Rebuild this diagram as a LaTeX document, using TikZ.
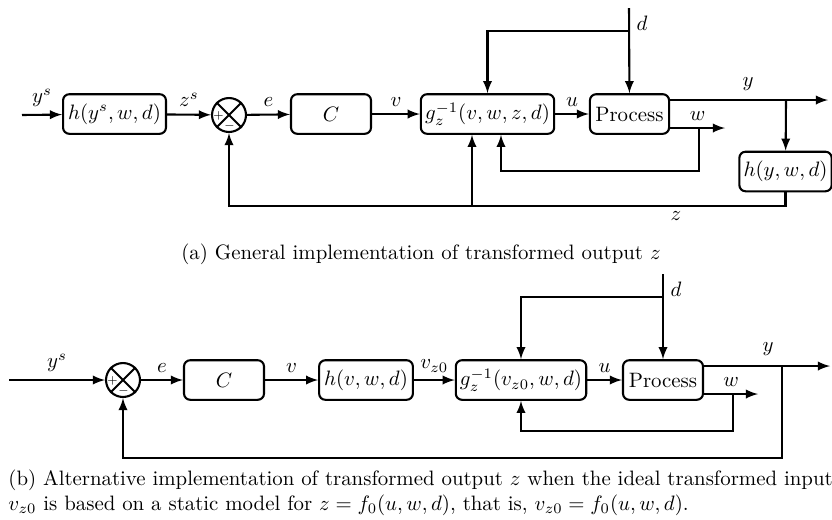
\documentclass[tikz,border=0pt]{standalone}
\usetikzlibrary{calc}
\tikzset{
	blok/.style={draw, line width=1pt, rounded corners=3pt, minimum height=19pt, inner sep=2pt},
	vsota/.style={draw, line width=1pt, circle, minimum size=16.3pt, inner sep=0pt},
	pov/.style={->, >=latex, line width=1pt},
}
\newcommand{\SumX}[1]{% krizec v vsotnem clenu ter predznaka + in -
	\draw[line width=1pt] (#1.north west)--(#1.south east) (#1.north east)--(#1.south west);
	\node[font=\tiny, inner sep=0pt] (#1p) at ($(#1.center)+(-5pt,-0.6pt)$) {$+$};
	\node[font=\tiny, inner sep=0pt] (#1m) at ($(#1.center)+(0.3pt,-5.4pt)$) {$-$};
}

\begin{document}
\begin{tikzpicture}[x=0.48pt, y=-0.48pt]
	\useasboundingbox (0,0) rectangle (832,519);

	% (a) splosna izvedba
	\coordinate (in1) at (22,115);
	\node[blok, minimum width=49.4pt] (hs) at (114.5,114) {$h(y^s,w,d)$};
	\node[vsota] (s1) at (229,115) {};
	\SumX{s1}
	\node[blok, minimum width=38.4pt] (C1) at (331,114) {$C$};
	\node[blok, minimum width=64pt] (g1) at (487.5,114) {$g_z^{-1}(v,w,z,d)$};
	\node[blok, minimum width=38pt] (P1) at (629.5,114) {Process};
	\node[blok, minimum width=43.7pt] (h2) at (785.5,171.5) {$h(y,w,d)$};

	\draw[pov] (in1) -- node[above]{$y^s$} (hs);
	\draw[pov] (hs) -- node[above]{$z^s$} (s1);
	\draw[pov] (s1) -- node[above]{$e$} (C1);
	\draw[pov] (C1) -- node[above]{$v$} (g1);
	\draw[pov] (g1) -- node[above]{$u$} (P1);

	\coordinate (d1) at (629,8);
	\coordinate (d1b) at (629,31);
	\node[anchor=north west, inner sep=3.5pt] (dl1) at (d1) {$d$};
	\draw[pov] (d1) -- (P1);
	\draw[pov] (d1b) -| (g1);

	\coordinate (y1) at (828,100);
	\coordinate (yb1) at (786,100);
	\draw[pov] (P1.east |- y1) -- (y1);
	\node (yl1) at (748,84) {$y$};
	\draw[pov] (yb1) -- (h2);

	\coordinate (w1) at (725,128);
	\coordinate (wb1) at (699,128);
	\coordinate (wf1) at (501,171);
	\draw[pov] (P1.east |- w1) -- node[above]{$w$} (w1);
	\draw[pov] (wb1) |- (wf1) -- (wf1 |- g1.south);

	\coordinate (zc1) at (229,206);
	\coordinate (zb1) at (472,206);
	\draw[pov] (h2.south) |- (zc1) -- (s1);
	\draw[pov] (zb1) -- (zb1 |- g1.south);
	\node (zl1) at (676,216) {$z$};

	\node (capa) at (421,254) {(a) General implementation of transformed output $z$};

	% (b) izvedba s staticnim modelom
	\coordinate (in2) at (9,380);
	\node[vsota] (s2) at (123,380) {};
	\SumX{s2}
	\node[blok, minimum width=38.4pt] (C2) at (224,380) {$C$};
	\node[blok, minimum width=45pt] (hv) at (366,380) {$h(v,w,d)$};
	\node[blok, minimum width=62.4pt] (g2) at (521,380) {$g_z^{-1}(v_{z0},w,d)$};
	\node[blok, minimum width=38.4pt] (P2) at (663,380) {Process};

	\draw[pov] (in2) -- node[above]{$y^s$} (s2);
	\draw[pov] (s2) -- node[above]{$e$} (C2);
	\draw[pov] (C2) -- node[above]{$v$} (hv);
	\draw[pov] (hv) -- node[above]{$v_{z0}$} (g2);
	\draw[pov] (g2) -- node[above]{$u$} (P2);

	\coordinate (d2) at (663,274);
	\coordinate (d2b) at (663,297);
	\node[anchor=north west, inner sep=3.5pt] (dl2) at (d2) {$d$};
	\draw[pov] (d2) -- (P2);
	\draw[pov] (d2b) -| (g2);

	\coordinate (y2) at (830,366);
	\coordinate (yb2) at (782,366);
	\coordinate (yc2) at (123,458);
	\draw[pov] (P2.east |- y2) -- (y2);
	\node (yl2) at (768,349) {$y$};
	\draw[pov] (yb2) |- (yc2) -- (s2);

	\coordinate (w2) at (758,394);
	\coordinate (wb2) at (733,394);
	\coordinate (wf2) at (521,431);
	\draw[pov] (P2.east |- w2) -- node[above]{$w$} (w2);
	\draw[pov] (wb2) |- (wf2) -- (g2);

	\node[anchor=west, align=left, inner sep=0pt] (capb) at (8,493)
		{(b) Alternative implementation of transformed output $z$ when the ideal transformed input\\
		$v_{z0}$ is based on a static model for $z=f_0(u,w,d)$, that is, $v_{z0}=f_0(u,w,d)$.};
\end{tikzpicture}
\end{document}
